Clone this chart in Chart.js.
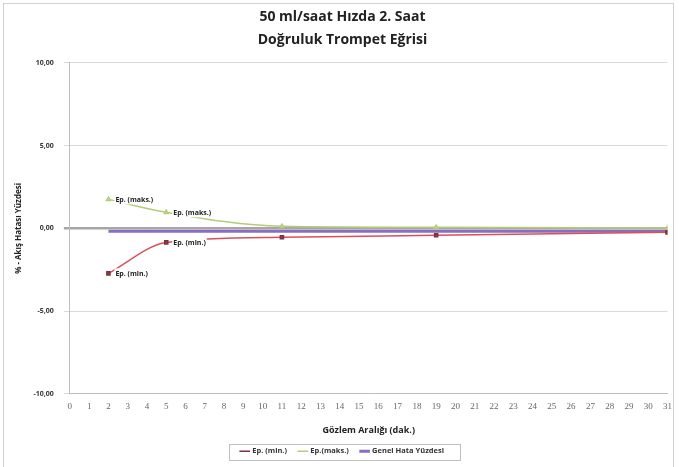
<!DOCTYPE html>
<html>
<head>
<meta charset="utf-8">
<script src="https://cdn.jsdelivr.net/npm/chart.js@4/dist/chart.umd.min.js"></script>
<style>
  html, body { margin: 0; padding: 0; background: #fff; }
  #wrap { position: relative; width: 679px; height: 467px; }
  #frame { position: absolute; left: 3px; top: 3px; width: 671px; height: 470px; border: 1px solid #d0d0d0; box-sizing: border-box; pointer-events: none; }
</style>
</head>
<body>
<div id="wrap">
  <canvas id="trumpetChart" width="679" height="467"></canvas>
  <div id="frame"></div>
</div>
<script>
// Gözlem aralıkları (dak.)
const observationMinutes = [2, 5, 11, 19, 31];
// Ep. (min.) değerleri
const epMinValues = [-2.72, -0.85, -0.54, -0.42, -0.24];
// Ep. (maks.) değerleri
const epMaxValues = [1.75, 0.97, 0.12, 0.06, 0.02];
// Genel hata yüzdesi
const overallErrorValues = [-0.18, -0.18, -0.18, -0.18, -0.18];
// Etiketlenen noktalar (indeks)
const labelledIndexes = [0, 1];

const yTicks = [-10, -5, 0, 5, 10];

function toPoints(values) {
    return observationMinutes.map((m, i) => ({ x: m, y: values[i] }));
}

const pointLabels = {
    id: 'pointLabels',
    afterDatasetsDraw(chart) {
        const ctx = chart.ctx;
        ctx.save();
        ctx.font = 'bold 7px "Open Sans", sans-serif';
        ctx.textBaseline = 'middle';
        [0, 1].forEach(di => {
            const ds = chart.data.datasets[di];
            const meta = chart.getDatasetMeta(di);
            labelledIndexes.forEach(i => {
                const el = meta.data[i];
                const txt = ds.label === 'Ep.(maks.)' ? 'Ep. (maks.)' : ds.label;
                const w = ctx.measureText(txt).width;
                const tx = el.x + 7;
                ctx.fillStyle = '#ffffff';
                ctx.fillRect(tx - 1, el.y - 5, w + 2, 10);
                ctx.fillStyle = '#222';
                ctx.fillText(txt, tx, el.y + 0.5);
            });
        });
        ctx.restore();
    }
};

// legend çerçevesi sadece öğelerin etrafında
const legendBox = {
    id: 'legendBox',
    afterDraw(chart) {
        const lg = chart.legend;
        if (!lg || !lg.legendHitBoxes || !lg.legendHitBoxes.length) return;
        const boxes = lg.legendHitBoxes;
        const left = Math.min(...boxes.map(b => b.left)) - 12;
        const right = Math.max(...boxes.map(b => b.left + b.width)) + 16;
        const top = Math.min(...boxes.map(b => b.top)) - 4;
        const bottom = Math.max(...boxes.map(b => b.top + b.height)) + 4;
        const ctx = chart.ctx;
        ctx.save();
        ctx.strokeStyle = '#bfbfbf';
        ctx.lineWidth = 1;
        ctx.strokeRect(Math.round(left) + 0.5, Math.round(top) + 0.5, Math.round(right - left), Math.round(bottom - top));
        ctx.restore();
    }
};

document.addEventListener('DOMContentLoaded', () => {
    const ctx = document.getElementById('trumpetChart').getContext('2d');
    new Chart(ctx, {
        type: 'line',
        data: {
            datasets: [
                {
                    label: 'Ep. (min.)',
                    data: toPoints(epMinValues),
                    borderColor: '#d9505a',
                    backgroundColor: '#9c3f4a',
                    pointBackgroundColor: '#9c3f4a',
                    pointBorderColor: '#7d3040',
                    pointStyle: 'rect',
                    pointRadius: 2.2,
                    borderWidth: 1.5,
                    cubicInterpolationMode: 'monotone'
                },
                {
                    label: 'Ep.(maks.)',
                    data: toPoints(epMaxValues),
                    borderColor: '#b3cc78',
                    backgroundColor: '#c8d89a',
                    pointBackgroundColor: '#dfe8c0',
                    pointBorderColor: '#b3cc78',
                    pointStyle: 'triangle',
                    pointRadius: 2.2,
                    borderWidth: 1.5,
                    cubicInterpolationMode: 'monotone'
                },
                {
                    label: 'Genel Hata Yüzdesi',
                    data: toPoints(overallErrorValues),
                    borderColor: '#8a6cc0',
                    backgroundColor: '#555',
                    pointRadius: 0,
                    borderWidth: 3
                }
            ]
        },
        options: {
            responsive: false,
            animation: false,
            layout: { padding: { top: 4, right: 8, left: 14, bottom: 2 } },
            scales: {
                x: {
                    type: 'linear',
                    min: 0,
                    max: 31,
                    ticks: {
                        stepSize: 1,
                        color: '#666',
                        padding: 7,
                        font: { family: '"Liberation Serif", serif', size: 9 },
                        maxRotation: 0,
                        autoSkip: false
                    },
                    grid: { display: false, drawTicks: false },
                    border: { color: '#bdbdbd', width: 1 },
                    title: {
                        display: true,
                        text: 'Gözlem Aralığı (dak.)',
                        color: '#222',
                        font: { family: '"Open Sans", sans-serif', size: 9, weight: 'bold' },
                        padding: { top: 6, bottom: 0 }
                    }
                },
                y: {
                    min: -10,
                    max: 10,
                    afterBuildTicks(scale) {
                        scale.ticks = yTicks.map(v => ({ value: v }));
                    },
                    ticks: {
                        color: '#333',
                        font: { family: '"Open Sans", sans-serif', size: 7, weight: 'bold' },
                        padding: 10,
                        callback: v => v.toFixed(2).replace('.', ',')
                    },
                    grid: {
                        color: ctx => ctx.tick && ctx.tick.value === 0 ? '#a6a6a6' : '#d9d9d9',
                        lineWidth: ctx => ctx.tick && ctx.tick.value === 0 ? 2.5 : 1,
                        drawTicks: true,
                        tickLength: 6
                    },
                    border: { color: '#bdbdbd', width: 1 },
                    title: {
                        display: true,
                        text: '% - Akış Hatası Yüzdesi',
                        color: '#222',
                        font: { family: '"Open Sans", sans-serif', size: 8, weight: 'bold' },
                        padding: { top: 0, bottom: 0 }
                    }
                }
            },
            plugins: {
                title: {
                    display: true,
                    text: ['50 ml/saat Hızda 2. Saat', 'Doğruluk Trompet Eğrisi'],
                    color: '#222',
                    font: { family: '"Open Sans", sans-serif', size: 14, weight: 'bold', lineHeight: 1.6 },
                    padding: { top: 2, bottom: 12 }
                },
                legend: {
                    position: 'bottom',
                    labels: {
                        usePointStyle: true,
                        pointStyle: 'line',
                        boxWidth: 30,
                        padding: 12,
                        color: '#333',
                        font: { family: '"Open Sans", sans-serif', size: 7.5, weight: 'bold' }
                    }
                },
                tooltip: { enabled: false }
            }
        },
        plugins: [pointLabels, legendBox]
    });
});
</script>
</body>
</html>
